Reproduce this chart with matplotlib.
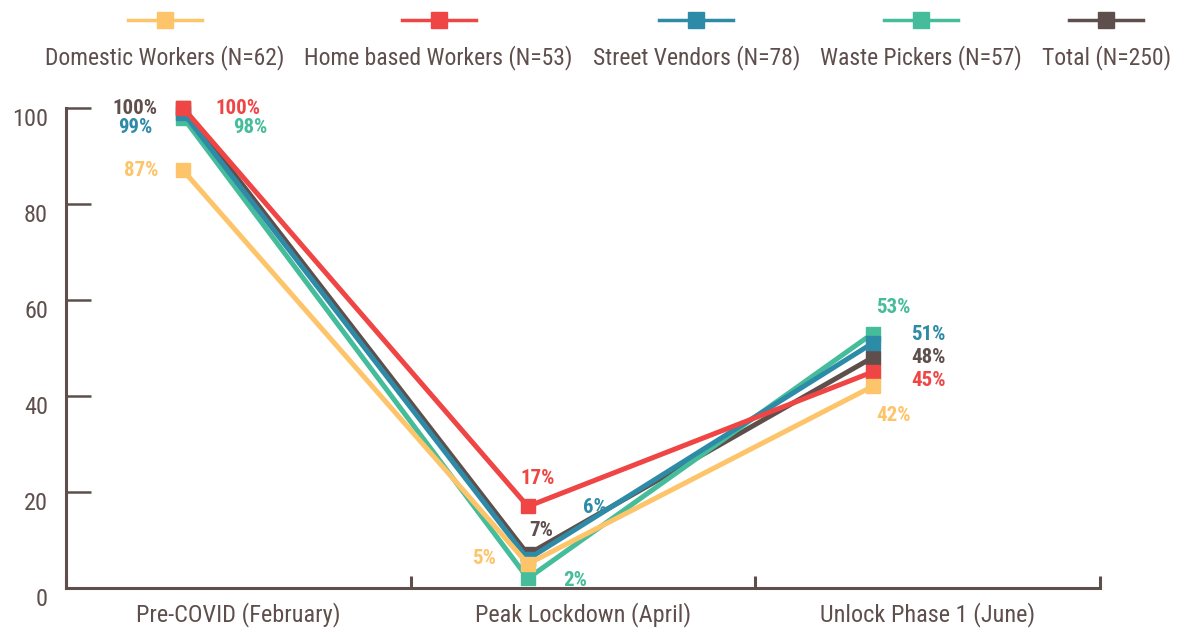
import matplotlib
matplotlib.use("Agg")
import matplotlib.pyplot as plt
import matplotlib.transforms as mtransforms
from matplotlib import font_manager
from matplotlib.lines import Line2D

# pick a narrow font if one is there
family = "Roboto"
narrow = False
for cand in ["Roboto Condensed", "Liberation Sans Narrow"]:
    try:
        font_manager.findfont(cand, fallback_to_default=False)
        family = cand
        narrow = True
        break
    except Exception:
        pass
plt.rcParams["font.family"] = [family, "DejaVu Sans"]

# data
periods = ["Pre-COVID (February)", "Peak Lockdown (April)", "Unlock Phase 1 (June)"]
series = ["Domestic Workers (N=62)", "Home based Workers (N=53)",
          "Street Vendors (N=78)", "Waste Pickers (N=57)", "Total (N=250)"]
domestic = [87, 5, 42]
home_based = [100, 17, 45]
street = [99, 6, 51]
waste = [98, 2, 53]
total = [100, 7, 48]

values = [domestic, home_based, street, waste, total]
colors = ["#FDC46A", "#EF4545", "#2E8BA8", "#45BD9B", "#5E4F4C"]
zorders = [7, 6, 5, 4, 3]
txt = "#5E4F4C"

# label offsets in pixels (dx, dy) per series per period
offsets = [
    [(-42, 0), (-44, 6), (21, -29)],
    [(55, 0), (10, 28), (56, -9)],
    [(-48, -15), (67, 52), (56, 9)],
    [(67, -10), (47, -2), (21, 26)],
    [(-48, 0), (13, 24), (56, 0)],
]

W, H = 1189, 628
fig = plt.figure(figsize=(W / 100, H / 100), dpi=100)
ax = fig.add_axes([66 / W, 1 - 588 / H, (1100 - 66) / W, (588 - 108) / H])

shift = 0.34
xs = [i + shift for i in range(len(periods))]
for vals, col, z, offs in zip(values, colors, zorders, offsets):
    ax.plot(xs, vals, color=col, lw=3.6, marker="s", ms=10.5,
            solid_joinstyle="miter", zorder=z, clip_on=False)
    for x, v, (dx, dy) in zip(xs, vals, offs):
        ax.annotate(f"{v}%", (x, v), xytext=(dx, dy), textcoords="offset pixels",
                    ha="center", va="center", color=col, fontsize=15 if narrow else 12,
                    fontweight="bold", zorder=10)

ax.set_xlim(0, 3)
ax.set_ylim(0, 100)
for s in ["top", "right"]:
    ax.spines[s].set_visible(False)
for s in ["left", "bottom"]:
    ax.spines[s].set_color(txt)
    ax.spines[s].set_linewidth(2.2)

tick_fs = 17.5 if narrow else 14
ax.set_yticks(range(0, 101, 20))
ax.tick_params(axis="y", direction="in", length=18, width=1.8, color=txt,
               pad=13, labelsize=tick_fs, labelcolor=txt)
shift_down = mtransforms.ScaledTranslation(0, -0.09, fig.dpi_scale_trans)
for lab in ax.get_yticklabels():
    lab.set_transform(lab.get_transform() + shift_down)

ax.set_xticks([0, 1, 2, 3])
ax.set_xticklabels([])
ax.tick_params(axis="x", which="major", direction="in", length=9, width=2.2, color=txt)
ax.set_xticks([0.5, 1.5, 2.5], minor=True)
ax.set_xticklabels(periods, minor=True)
ax.tick_params(axis="x", which="minor", length=0, pad=10, labelsize=tick_fs, labelcolor=txt)

# legend on top: handle above each label
leg_fs = 17 if narrow else 14
fig.canvas.draw()
renderer = fig.canvas.get_renderer()
x_cur = 45
gap = 20
for name, col in zip(series, colors):
    t = fig.text(x_cur / W, 1 - 58 / H, name, ha="left", va="center",
                 fontsize=leg_fs, color=txt)
    bb = t.get_window_extent(renderer)
    cx = (bb.x0 + bb.x1) / 2 / W
    fig.add_artist(Line2D([cx - 37 / W, cx + 37 / W], [1 - 20 / H] * 2,
                          color=col, lw=2.5, transform=fig.transFigure))
    fig.add_artist(Line2D([cx], [1 - 20 / H], marker="s", ms=11, color=col,
                          transform=fig.transFigure))
    x_cur = bb.x1 + gap

fig.savefig("out.png", dpi=100)
